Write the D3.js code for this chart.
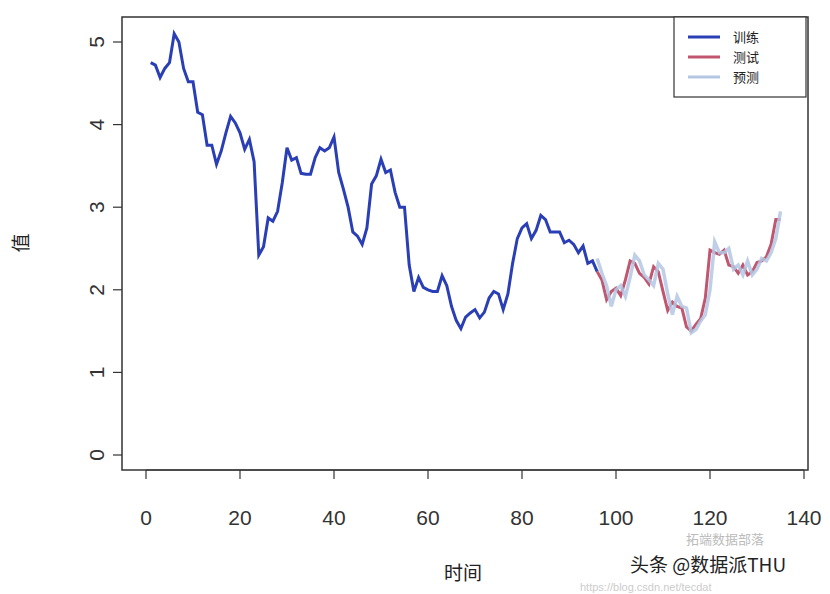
<!DOCTYPE html>
<html><head><meta charset="utf-8">
<script src="https://cdn.jsdelivr.net/npm/d3@7"></script>
<style>body{margin:0;background:#fff}svg{font-family:"Liberation Sans",Arial,sans-serif}</style>
</head><body><svg id="c" width="830" height="594"></svg>
<script>
const train = [4.75,4.72,4.57,4.68,4.75,5.10,5.00,4.68,4.52,4.52,4.15,4.12,3.75,3.75,3.52,3.68,3.90,4.10,4.02,3.90,
  3.70,3.82,3.55,2.42,2.52,2.87,2.83,2.95,3.30,3.72,3.57,3.60,3.41,3.40,3.40,3.60,3.72,3.68,3.72,3.85,
  3.42,3.22,3.00,2.70,2.65,2.55,2.75,3.28,3.38,3.58,3.42,3.45,3.18,3.00,3.00,2.30,1.98,2.15,2.03,2.00,
  1.98,1.98,2.17,2.05,1.80,1.63,1.53,1.67,1.72,1.76,1.66,1.73,1.90,1.98,1.95,1.76,1.95,2.32,2.62,2.75,
  2.80,2.62,2.72,2.90,2.85,2.70,2.70,2.70,2.57,2.60,2.55,2.45,2.53,2.32,2.35,2.22];
const test = [2.22,2.12,1.88,1.98,2.02,1.93,2.12,2.35,2.32,2.20,2.15,2.07,2.28,2.22,1.98,1.75,1.85,1.80,1.78,1.55,
  1.50,1.58,1.65,1.90,2.48,2.45,2.43,2.48,2.30,2.28,2.20,2.30,2.18,2.22,2.33,2.35,2.40,2.55,2.85,2.85];
const pred = [2.38,2.20,2.05,1.80,2.00,2.05,1.92,2.15,2.42,2.35,2.18,2.12,2.05,2.32,2.25,1.95,1.70,1.92,1.80,1.78,
  1.48,1.52,1.62,1.70,2.00,2.58,2.45,2.45,2.50,2.25,2.30,2.18,2.35,2.18,2.25,2.38,2.35,2.45,2.62,2.95];
const testStart = 96;
const xTicks = [0,20,40,60,80,100,120,140];
const yTicks = [0,1,2,3,4,5];
const legendItems = [["训练","#2a3fb5"],["测试","#c0566f"],["预测","#b3c7e3"]];

const svg = d3.select('#c');
const x = d3.scaleLinear().domain([0,140]).range([146,804]);
const y = d3.scaleLinear().domain([0,5]).range([455,42]);
const box = {l:122, r:808, t:17, b:470};

// lines
const line = d3.line().x(d => x(d[0])).y(d => y(d[1]));
const trainPts = train.map((v,i) => [i+1,v]);
const testPts = test.map((v,i) => [testStart+i,v]);
const predPts = pred.map((v,i) => [testStart+i,v]);
svg.append('path').attr('d', line(trainPts)).attr('fill','none').attr('stroke','#2a3fb5').attr('stroke-width',3);
svg.append('path').attr('d', line(testPts)).attr('fill','none').attr('stroke','#c0566f').attr('stroke-width',3);
svg.append('path').attr('d', line(predPts)).attr('fill','none').attr('stroke','#b3c7e3').attr('stroke-width',3.5).attr('opacity',0.85);

// frame
svg.append('rect').attr('x',box.l).attr('y',box.t).attr('width',box.r-box.l).attr('height',box.b-box.t)
  .attr('fill','none').attr('stroke','#333').attr('stroke-width',1.5);

// x axis
const xa = svg.append('g');
xa.append('line').attr('x1',x(0)).attr('x2',x(140)).attr('y1',box.b).attr('y2',box.b).attr('stroke','#333');
xTicks.forEach(t => {
  xa.append('line').attr('x1',x(t)).attr('x2',x(t)).attr('y1',box.b).attr('y2',box.b+9).attr('stroke','#333').attr('stroke-width',1.2);
  xa.append('text').attr('x',x(t)).attr('y',525).attr('text-anchor','middle').attr('font-size',21).attr('fill','#333').text(t);
});
// y axis
yTicks.forEach(t => {
  svg.append('line').attr('x1',box.l-9).attr('x2',box.l).attr('y1',y(t)).attr('y2',y(t)).attr('stroke','#333').attr('stroke-width',1.2);
  svg.append('text').attr('transform',`translate(104,${y(t)}) rotate(-90)`).attr('text-anchor','middle')
    .attr('font-size',21).attr('fill','#333').text(t);
});
svg.append('text').attr('transform','translate(28,243) rotate(-90)').attr('text-anchor','middle')
  .attr('font-family','Noto Sans CJK SC').attr('font-size',19).attr('fill','#222').text('值');
svg.append('text').attr('x',463).attr('y',580).attr('text-anchor','middle')
  .attr('font-family','Noto Sans CJK SC').attr('font-size',19).attr('fill','#222').text('时间');

// legend
svg.append('rect').attr('x',674).attr('y',17).attr('width',132).attr('height',80).attr('fill','#fff').attr('stroke','#333').attr('stroke-width',1.2);
legendItems.forEach((d,i) => {
  const yy = 37 + i*20;
  svg.append('line').attr('x1',688).attr('x2',720).attr('y1',yy).attr('y2',yy).attr('stroke',d[1]).attr('stroke-width',3);
  svg.append('text').attr('x',733).attr('y',yy+5).attr('font-family','Noto Sans CJK SC').attr('font-size',13).attr('fill','#222').text(d[0]);
});

// watermark
svg.append('text').attr('x',686).attr('y',544).attr('font-family','Noto Sans CJK SC').attr('font-size',13).attr('fill','#bbb').text('拓端数据部落');
svg.append('text').attr('x',630).attr('y',572).attr('font-family','Noto Sans CJK SC').attr('font-size',19).attr('fill','#222').text('头条 @数据派THU');
svg.append('text').attr('x',580).attr('y',591).attr('font-size',11).attr('fill','#ccc').text('https://blog.csdn.net/tecdat');
</script></body></html>
